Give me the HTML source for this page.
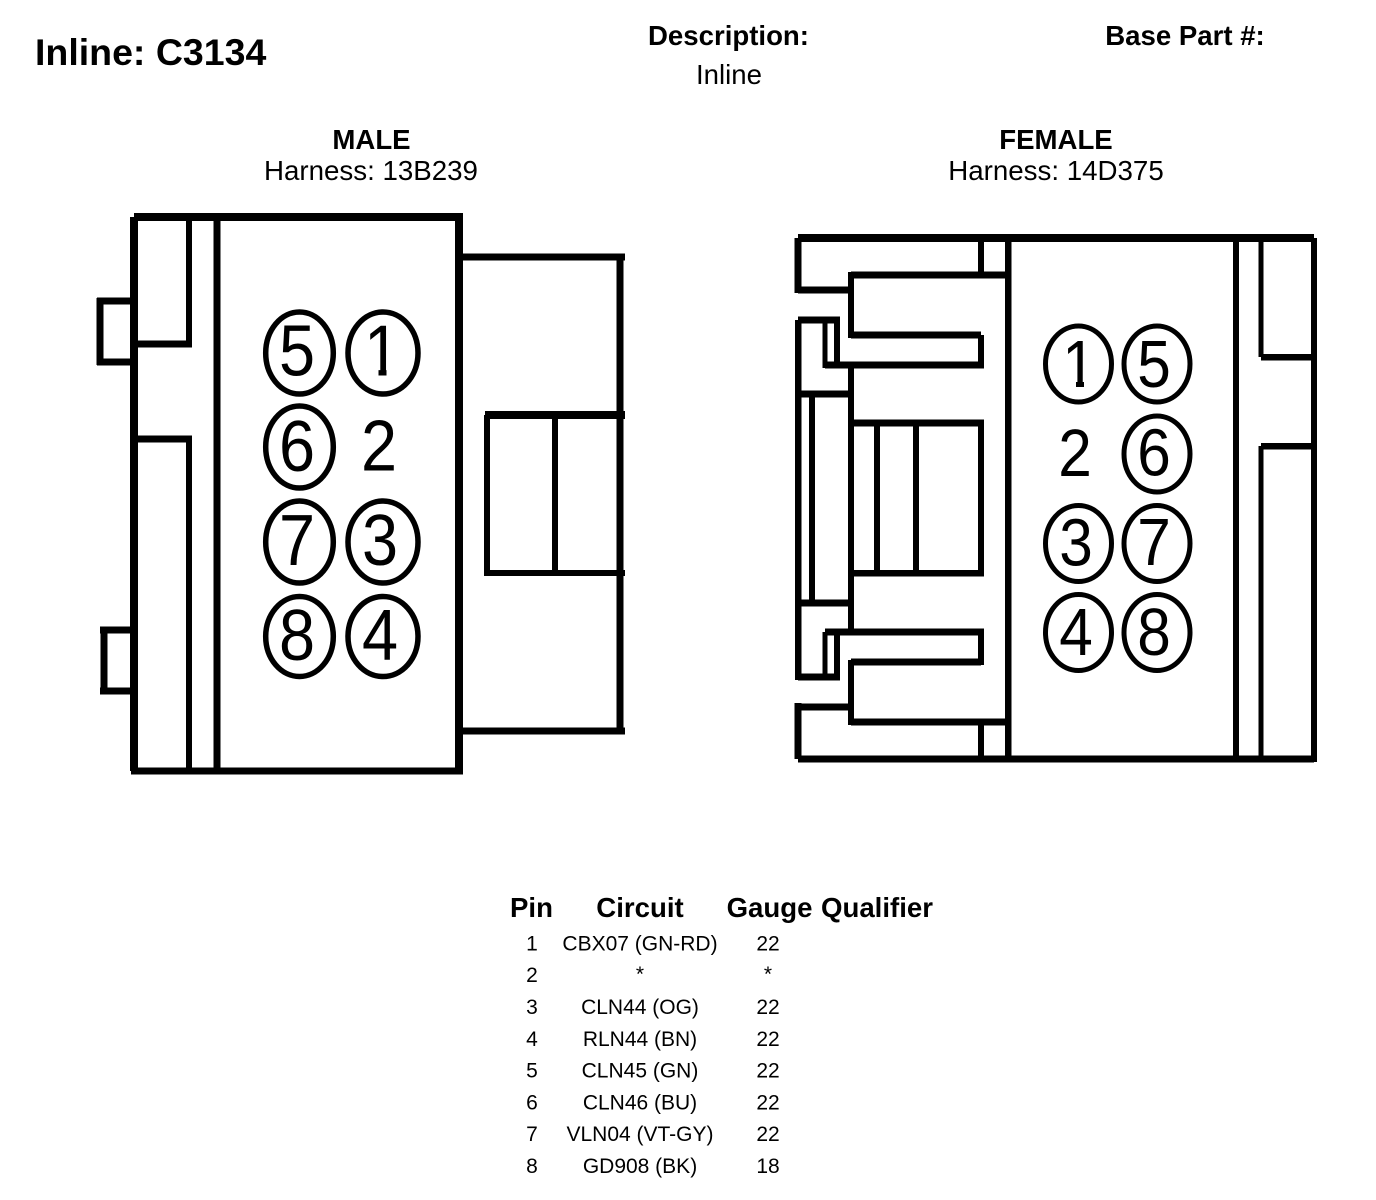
<!DOCTYPE html>
<html><head><meta charset="utf-8"><style>
html,body{margin:0;padding:0;background:#fff;width:1376px;height:1200px;overflow:hidden}
svg{display:block}
text{font-family:"Liberation Sans",Arial,sans-serif;fill:#000}
.b{font-weight:bold}
.m{text-anchor:middle}
.t{font-size:21px;text-anchor:middle}
.h{font-size:27.6px;font-weight:bold;text-anchor:middle}
.d{font-size:72px}
.f{font-size:67px}
</style></head><body>
<svg width="1376" height="1200" viewBox="0 0 1376 1200" xmlns="http://www.w3.org/2000/svg">
<text x="35" y="65" class="b" font-size="37.5">Inline: C3134</text>
<text x="728.500" y="45" class="b m" font-size="27.6">Description:</text>
<text x="729" y="84" class="m" font-size="27.6">Inline</text>
<text x="1185" y="45" class="b m" font-size="27.6">Base Part #:</text>
<text x="371.500" y="149" class="b m" font-size="27.6">MALE</text>
<text x="371" y="180" class="m" font-size="27.7">Harness: 13B239</text>
<text x="1056" y="149" class="b m" font-size="27.6">FEMALE</text>
<text x="1056" y="180" class="m" font-size="27.7">Harness: 14D375</text>

<g fill="none" stroke="#000" shape-rendering="crispEdges">
<!-- male -->
<path stroke-width="8" d="M134 217H463M134 217V771M459 213V774"/>
<path stroke-width="7" d="M131 771H463M217 217V771M134 344H192M134 439H192M459 257H625M620 257V731M459 731H625"/>
<path stroke-width="6" d="M189 217V344M189 439V771"/>
<path stroke-width="8" d="M485 415H625"/>
<path stroke-width="6" d="M487 415V576M555 415V576M485 573H625"/>
<path stroke-width="7" d="M100 298V365M97 301H134M97 362H134M104 627V694M100 630H134M100 691H134"/>

<!-- female -->
<path stroke-width="8" d="M798 238H1314"/>
<path stroke-width="7" d="M798 759H1314M798 238V293M798 290H851M798 703V759M798 707H851M851 722H1008M851 275H1008M851 335H981M825 365H984M825 632H984M851 662H981M851 423H984M798 320H840M798 677H840M798 394H851M798 603H851"/>
<path stroke-width="6.500" d="M1008 238V759M798 320V680"/>
<path stroke-width="6" d="M851 272V338M851 660V725M851 365V632M981 238V275M981 722V759M981 335V368M981 629V665M981 423V576M877 423V573M916 423V573M812 394V603M837 320V365M837 632V680M1236 238V759M1314 238V762"/>
<path stroke-width="5" d="M825 320V368M825 632V680M1261 238V357M1261 446V759"/>
<path stroke-width="6.500" d="M851 573H984M1261 357H1314M1261 446H1314"/>
</g>

<g class="d" text-anchor="middle">
<text transform="translate(297 375.500) scale(.9 1)">5</text>
<text transform="translate(382 375.500) scale(.9 1)">1</text>
<text transform="translate(297 471) scale(.9 1)">6</text>
<text transform="translate(379 470.500) scale(.9 1)">2</text>
<text transform="translate(297 565) scale(.9 1)">7</text>
<text transform="translate(380 565) scale(.9 1)">3</text>
<text transform="translate(297 660) scale(.9 1)">8</text>
<text transform="translate(380 660) scale(.9 1)">4</text>
</g>
<g fill="#fff">
<rect x="360" y="369" width="18.500" height="8"/>
<rect x="386.500" y="369" width="19" height="8"/>
<rect x="1060" y="381" width="16" height="7"/>
<rect x="1084" y="381" width="15" height="7"/>
</g>
<g class="f" text-anchor="middle">
<text transform="translate(1154 387) scale(.9 1)">5</text>
<text transform="translate(1075 476) scale(.9 1)">2</text>
<text transform="translate(1154 475.500) scale(.9 1)">6</text>
<text transform="translate(1076 565.500) scale(.9 1)">3</text>
<text transform="translate(1154 565) scale(.9 1)">7</text>
<text transform="translate(1076 655) scale(.9 1)">4</text>
<text transform="translate(1154 655) scale(.9 1)">8</text>
</g>
<g class="f" text-anchor="middle">
<text transform="translate(1079 387) scale(.9 1)" clip-path="none">1</text>
</g>
<g fill="#fff">
<rect x="1060" y="381" width="16" height="7"/>
<rect x="1084" y="381" width="15" height="7"/>
</g>

<g fill="none" stroke="#000" stroke-width="5.500">
<ellipse cx="299.500" cy="353" rx="33.800" ry="41"/>
<ellipse cx="383" cy="353" rx="35" ry="41"/>
<ellipse cx="299.500" cy="447" rx="33.800" ry="41"/>
<ellipse cx="299.500" cy="542" rx="33.800" ry="41"/>
<ellipse cx="383" cy="542" rx="35" ry="41"/>
<ellipse cx="299.500" cy="636.500" rx="33.800" ry="40"/>
<ellipse cx="383" cy="636.500" rx="35" ry="40"/>
</g>
<g fill="none" stroke="#000" stroke-width="5">
<ellipse cx="1078.500" cy="364" rx="33" ry="38"/>
<ellipse cx="1157" cy="364" rx="33" ry="38"/>
<ellipse cx="1157" cy="454" rx="33" ry="38"/>
<ellipse cx="1078.500" cy="543.500" rx="33" ry="38"/>
<ellipse cx="1157" cy="543.500" rx="33" ry="38"/>
<ellipse cx="1078.500" cy="632.500" rx="33" ry="38"/>
<ellipse cx="1157" cy="632.500" rx="33" ry="38"/>
</g>

<text x="531.500" y="917" class="h">Pin</text>
<text x="640" y="917" class="h">Circuit</text>
<text x="769.500" y="917" class="h">Gauge</text>
<text x="877" y="917" class="h">Qualifier</text>

<text x="532" y="950.500" class="t">1</text><text x="640" y="950.500" class="t">CBX07 (GN-RD)</text><text x="768" y="950.500" class="t">22</text>
<text x="532" y="982" class="t">2</text><text x="640" y="981" class="t">*</text><text x="768" y="981" class="t">*</text>
<text x="532" y="1014" class="t">3</text><text x="640" y="1014" class="t">CLN44 (OG)</text><text x="768" y="1014" class="t">22</text>
<text x="532" y="1046" class="t">4</text><text x="640" y="1046" class="t">RLN44 (BN)</text><text x="768" y="1046" class="t">22</text>
<text x="532" y="1077.500" class="t">5</text><text x="640" y="1077.500" class="t">CLN45 (GN)</text><text x="768" y="1077.500" class="t">22</text>
<text x="532" y="1109.500" class="t">6</text><text x="640" y="1109.500" class="t">CLN46 (BU)</text><text x="768" y="1109.500" class="t">22</text>
<text x="532" y="1141" class="t">7</text><text x="640" y="1141" class="t">VLN04 (VT-GY)</text><text x="768" y="1141" class="t">22</text>
<text x="532" y="1173" class="t">8</text><text x="640" y="1173" class="t">GD908 (BK)</text><text x="768" y="1173" class="t">18</text>
</svg>
</body></html>
